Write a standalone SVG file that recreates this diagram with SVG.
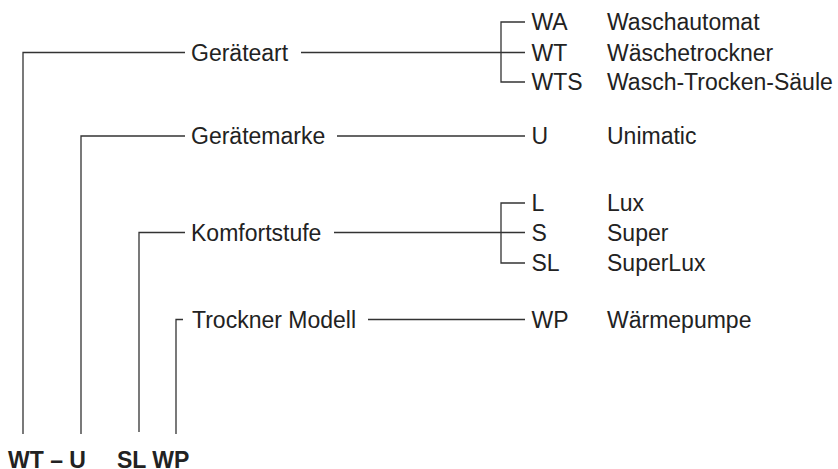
<svg xmlns="http://www.w3.org/2000/svg" width="838" height="469" viewBox="0 0 838 469">
<style>
.ln{stroke:#333;stroke-width:1.3;fill:none}
.t{font-family:"Liberation Sans",Arial,sans-serif;font-size:23px;fill:#222}
.b{font-family:"Liberation Sans",Arial,sans-serif;font-size:23px;font-weight:bold;fill:#222}
</style>
<rect width="838" height="469" fill="#fff"/>
<g id="connectors">
<path class="ln" d="M23,434 V52.5 H185 M301,52.5 H525 M525,22 H501 V82 H525"/>
<path class="ln" d="M81,434 V136 H185 M337,136 H525"/>
<path class="ln" d="M139,432 V232.5 H185 M334,232.5 H525 M525,203 H501 V263 H525"/>
<path class="ln" d="M176,434 V319.5 H183 M368,319.5 H525"/>
</g>
<g id="geraeteart">
<text class="t" x="191" y="60.7">Geräteart</text>
</g>
<g id="geraetemarke">
<text class="t" x="191" y="144.2">Gerätemarke</text>
</g>
<g id="komfortstufe">
<text class="t" x="191" y="240.7">Komfortstufe</text>
</g>
<g id="trockner-modell">
<text class="t" x="192" y="327.7">Trockner Modell</text>
</g>
<g id="opt-wa"><text class="t" x="531.5" y="30.2">WA</text><text class="t" x="607" y="30.2">Waschautomat</text></g>
<g id="opt-wt"><text class="t" x="531.5" y="60.7">WT</text><text class="t" x="607" y="60.7">Wäschetrockner</text></g>
<g id="opt-wts"><text class="t" x="531.5" y="90.2">WTS</text><text class="t" x="607" y="90.2">Wasch-Trocken-Säule</text></g>
<g id="opt-u"><text class="t" x="531.5" y="144.2">U</text><text class="t" x="607" y="144.2">Unimatic</text></g>
<g id="opt-l"><text class="t" x="531.5" y="211.2">L</text><text class="t" x="607" y="211.2">Lux</text></g>
<g id="opt-s"><text class="t" x="531.5" y="240.7">S</text><text class="t" x="607" y="240.7">Super</text></g>
<g id="opt-sl"><text class="t" x="531.5" y="271.2">SL</text><text class="t" x="607" y="271.2">SuperLux</text></g>
<g id="opt-wp"><text class="t" x="531.5" y="327.7">WP</text><text class="t" x="607" y="327.7">Wärmepumpe</text></g>
<g id="code">
<text class="b" x="8" y="468">WT – U</text>
<text class="b" x="117" y="468">SL WP</text>
</g>
</svg>
